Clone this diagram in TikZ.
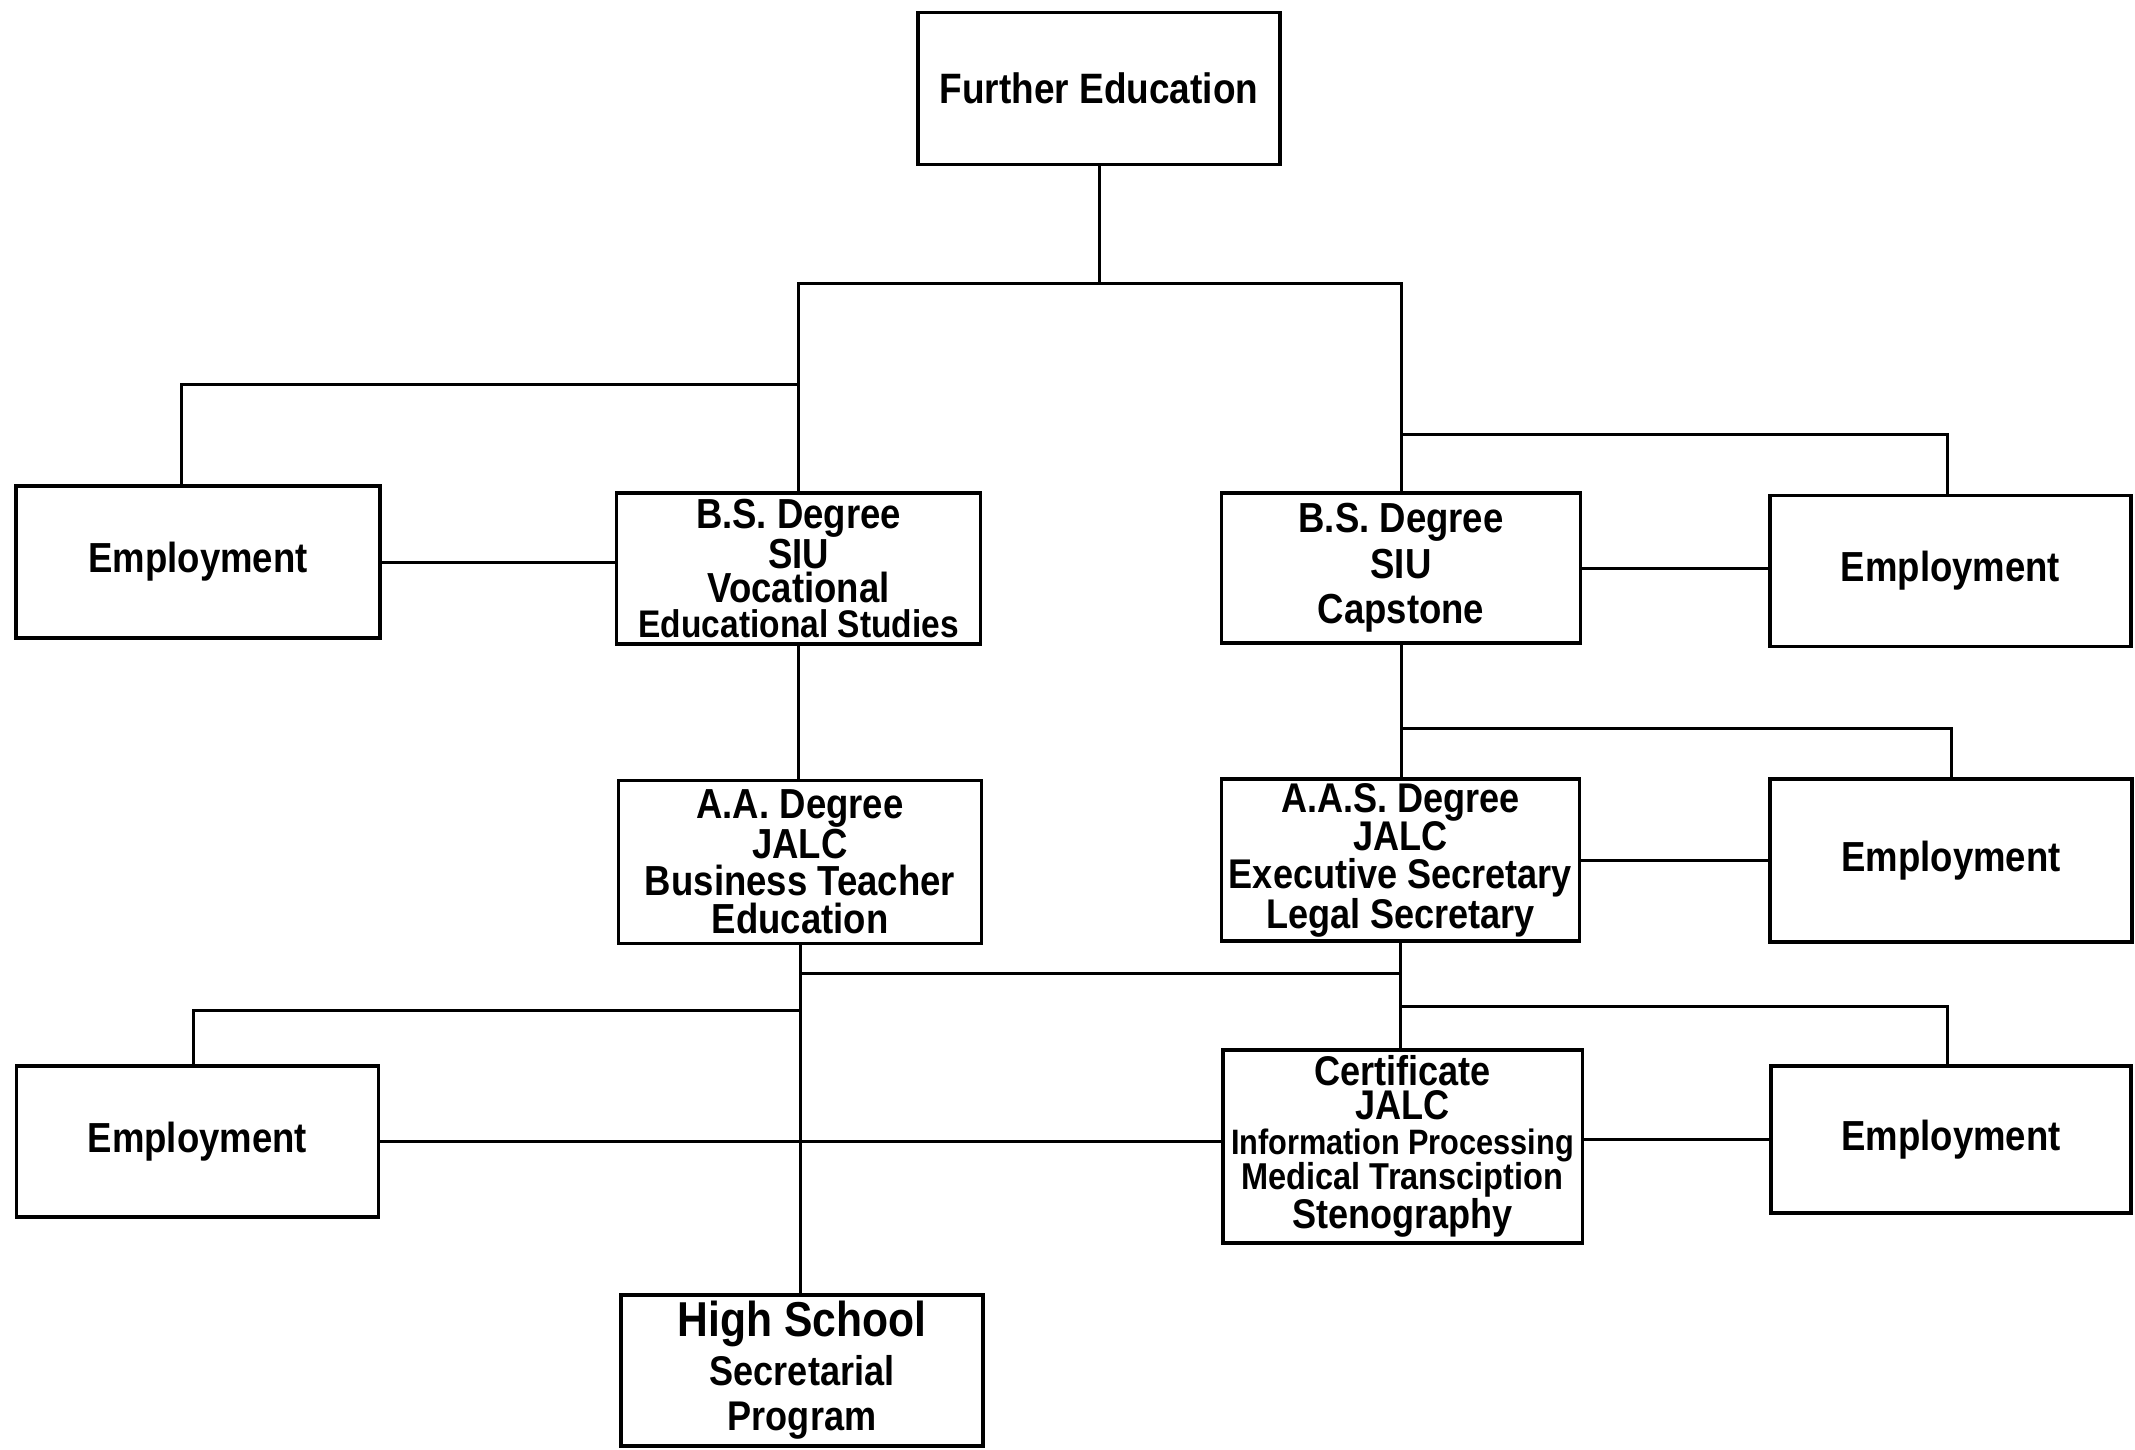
\documentclass[tikz,border=0pt]{standalone}
\usepackage{fontspec}
\setmainfont{Liberation Sans}[FakeStretch=0.87]
\newcommand{\fsz}[2]{\fontsize{#1}{#2}\selectfont}
\begin{document}
\begin{tikzpicture}[x=1pt,y=-1pt,
  box/.style={draw, line width=3.5pt, rectangle, inner sep=0pt, align=center,
    font=\bfseries\fsz{42}{40}},
  con/.style={line width=3pt}]
\useasboundingbox (0,0) rectangle (2135,1449);
\fill[white] (0,0) rectangle (2135,1449);

% nodes
\node[box, minimum width=362pt, minimum height=152pt] (fe) at (1099,88.5) {\fsz{42.5}{40}Further Education};
\node[box, minimum width=364pt, minimum height=152pt] (empl1) at (198,562) {Employment};
\node[box, minimum width=364pt, minimum height=151pt, font=\bfseries\fsz{42}{34.5}] (bsl) at (798.6,568.5)
  {B.S. Degree\\SIU\\Vocational\\\fsz{38.5}{34.5}Educational Studies};
\node[box, minimum width=359pt, minimum height=150pt, font=\bfseries\fsz{42}{45.6}] (bsr) at (1401,568)
  {B.S. Degree\\SIU\\Capstone};
\node[box, minimum width=361pt, minimum height=151pt] (empr1) at (1950.5,571) {Employment};
\node[box, minimum width=363pt, minimum height=163pt, font=\bfseries\fsz{42}{37.7}] (aa) at (800,862)
  {A.A. Degree\\JALC\\Business Teacher\\Education};
\node[box, minimum width=358pt, minimum height=162pt, font=\bfseries\fsz{41.5}{37.7}] (aas) at (1400.5,860)
  {A.A.S. Degree\\JALC\\Executive Secretary\\Legal Secretary};
\node[box, minimum width=362pt, minimum height=163pt] (empr2) at (1951,860.5) {Employment};
\node[box, minimum width=362pt, minimum height=151pt] (empl2) at (197.4,1141.7) {Employment};
\node[box, minimum width=359.5pt, minimum height=193pt, font=\bfseries\fsz{41.5}{34.3}] (cert) at (1402.5,1146.5)
  {Certificate\\JALC\\\fsz{35.3}{34.3}Information Processing\\\fsz{37.4}{34.3}Medical Transciption\\Stenography};
\node[box, minimum width=360pt, minimum height=147pt] (empr3) at (1951,1139.6) {Employment};
\node[box, minimum width=362pt, minimum height=151pt, font=\bfseries\fsz{41.5}{45}] (hs) at (802,1370.5)
  {\fsz{49}{45}High School\\[4pt]Secretarial\\Program};

% junctions
\coordinate (jt) at (1099,283);
\coordinate (jl) at (798.6,384);
\coordinate (jr) at (1401,434);
\coordinate (jr2) at (1401,728.5);
\coordinate (jm1) at (800,973.5);
\coordinate (jm2) at (1400.5,973.5);
\coordinate (jl2) at (800,1010);
\coordinate (jr3) at (1400.5,1006);

% connectors
\draw[con] (fe.south) -- (jt);
\draw[con] (bsl.north) |- (jt) -| (bsr.north);
\draw[con] (jl) -| ([xshift=-17pt]empl1.north);
\draw[con] (empl1.east) -- (empl1.east -| bsl.west);
\draw[con] (jr) -| ([xshift=-3pt]empr1.north);
\draw[con] (bsr.east) -- (bsr.east -| empr1.west);
\draw[con] (bsl.south) -- (bsl.south |- aa.north);
\draw[con] (bsr.south) -- (bsr.south |- aas.north);
\draw[con] (jr2) -| (empr2.north);
\draw[con] (aas.east) -- (aas.east -| empr2.west);
\draw[con] (aa.south) -- (aa.south |- hs.north);
\draw[con] (aas.south) -- (aas.south |- cert.north);
\draw[con] (jm1) -- (jm2);
\draw[con] (jl2) -| ([xshift=-4pt]empl2.north);
\draw[con] (jr3) -| ([xshift=-4pt]empr3.north);
\draw[con] (empl2.east) -- (empl2.east -| cert.west);
\draw[con] (empr3.west -| cert.east) -- (empr3.west);
\end{tikzpicture}
\end{document}
